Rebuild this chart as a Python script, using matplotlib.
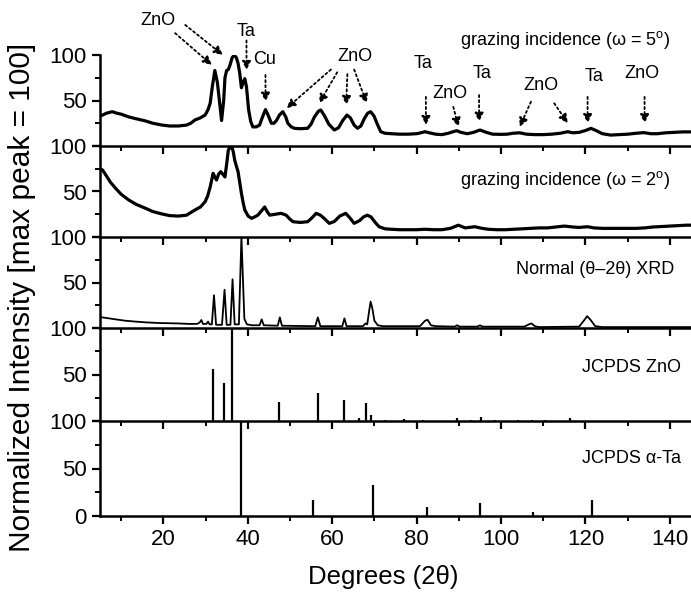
import matplotlib
matplotlib.use("Agg")
import matplotlib.pyplot as plt
from matplotlib.ticker import MultipleLocator, FixedLocator

plt.rcParams['font.family'] = ['Liberation Sans', 'DejaVu Sans']
plt.rcParams['mathtext.fontset'] = 'custom'
plt.rcParams['mathtext.rm'] = 'Liberation Sans'

# ---------------- data ----------------
# grazing incidence, omega = 5 deg
gi5_x = [5.0, 5.6, 6.5, 7.9, 9, 10, 11.8, 13.5, 15.8, 17.5, 19.7, 21.5, 23.6, 25.5, 26.5, 27.5, 28.8,
         29.9, 30.6, 31.1, 31.6, 32.2, 32.8, 33.4, 33.8, 34.3, 34.6, 35.0, 35.4, 35.8, 36.3, 36.8, 37.3,
         37.7, 38.1, 38.5, 38.9, 39.3, 39.7, 40.2, 40.7, 41.2, 42.0, 42.8, 43.5, 44.2, 44.9, 45.6, 46.2,
         46.8, 47.5, 48.3, 49.0, 49.5, 50.3, 51.1, 52.5, 54.2, 55.0, 55.8, 56.7, 57.3, 58.2, 59.2, 60.5,
         61.5, 62.5, 63.5, 64.3, 65.2, 66.0, 66.8, 67.6, 68.4, 69.1, 69.9, 70.6, 71.5, 72.5, 74, 76, 78,
         80, 81.0, 82.0, 83, 84.5, 86, 87.5, 88.5, 89.5, 90.5, 92, 93.5, 95.0, 96.5, 98, 100, 101.5, 102.8,
         104.4, 106, 108, 110, 112, 114, 115.8, 117, 118.5, 120, 121.3, 122.5, 124, 126, 128, 130, 132,
         133.8, 135.5, 137, 139, 141, 143, 145]
gi5_y = [33, 34, 36, 37.7, 36, 35, 32, 30, 27.5, 25, 23, 22, 22, 23, 25, 28.6, 31,
         34, 40, 47, 65, 83, 70, 45, 28, 50, 75, 83, 84, 89, 97, 100, 97,
         91, 80, 64, 70, 74, 65, 40, 27, 21, 21, 23, 32, 40, 33, 25, 25,
         28, 34, 37.7, 32, 25, 21, 19.4, 19, 19.5, 24, 32, 38, 39.6, 33, 24, 17.6,
         20, 28, 34, 31, 23, 19.5, 22, 30, 36, 37.7, 33, 25, 15.7, 14, 13.5, 13, 13,
         13.5, 14.5, 15.7, 14.5, 13, 12.5, 14, 15.5, 16.8, 15, 13.5, 15, 17.6, 15, 13, 12.8, 13, 14,
         14.5, 13, 12.5, 12.5, 13, 14, 15.7, 14.5, 15, 17, 19.4, 17, 13.5, 12, 12.5, 13, 14,
         14.7, 13.5, 13.5, 14.5, 15, 15.5, 15.5]

# grazing incidence, omega = 2 deg
gi2_x = [5.0, 5.6, 6.4, 7.5, 8.7, 10, 11.8, 13.5, 15.8, 17.5, 19.7, 21.5, 23.6, 25.5, 27.5, 28.8, 29.9,
         30.5, 31.1, 31.8, 32.2, 32.6, 33.1, 33.6, 34.1, 34.6, 35.0, 35.4, 35.8, 36.2, 36.6, 36.9, 37.3,
         37.7, 38.1, 38.5, 38.9, 39.3, 40.1, 40.9, 41.6, 42.4, 43.3, 44.0, 44.6, 45.2, 46.5, 47.9, 49.1,
         49.9, 50.7, 52.5, 54.2, 55.2, 56.2, 57.2, 58.1, 59.3, 60.5, 61.8, 63.2, 64.2, 65.2, 66.5, 67.4,
         68.3, 69.2, 70.2, 71.1, 72.5, 74, 76, 78, 80, 82, 84, 86, 88, 89.9, 91.5, 93.8, 95.5, 97, 99,
         101, 103, 105, 107, 109, 111, 113, 115, 117, 118.5, 120.5, 122, 124, 126, 128, 130, 132, 134,
         136, 138, 140, 142, 144, 145]
gi2_y = [75, 73.6, 68, 60, 53.5, 47, 40.7, 36, 31.5, 28, 25.3, 23.5, 23, 24, 29.7, 33, 38.8,
         45, 55, 70, 66, 62.6, 69, 71.8, 69, 66, 80, 95.6, 98, 100, 93, 84.6, 78,
         71.8, 60, 48, 38, 29.7, 23, 20.5, 22, 24, 29, 33, 28, 24, 25, 26, 24,
         20, 16.8, 16, 16.8, 21, 26, 24, 20.5, 15, 17, 23, 26, 21, 15, 18, 22,
         24, 22, 16, 11.3, 9, 8.5, 8, 8, 8, 8.5, 8, 8, 9.5, 13, 10, 11.3, 9.5, 8.5, 8,
         8, 8.5, 9, 9.5, 10, 10, 11, 12, 11, 10.5, 11.3, 10, 9.5, 9.5, 9.5, 9.5, 9.5, 10,
         11, 11.5, 12, 12.5, 13, 13]

# normal theta-2theta XRD
n_x = [5, 6.5, 8.7, 11, 13.5, 15.8, 19, 23.6, 26, 28, 28.6, 29, 29.4, 30.2, 30.6, 31.0, 31.5, 32.0,
       32.5, 33.9, 34.5, 35.0, 35.9, 36.4, 36.9, 37.9, 38.5, 39.2, 39.8, 41, 42.8, 43.3, 43.8, 47.1,
       47.6, 48.1, 56.0, 56.6, 57.2, 62.4, 62.9, 63.4, 67.3, 67.9, 68.3, 68.8, 69.1, 69.5, 70.0, 70.8,
       72, 80.8, 82.0, 82.6, 83.4, 84.5, 89.0, 89.6, 90.2, 94.4, 95.0, 95.6, 105.5, 106.6, 107.2,
       108.0, 109, 118.5, 119.6, 120.4, 121.2, 122.3, 124, 145]
n_y = [12, 11, 9.5, 8, 7, 6.2, 5.5, 5, 4.5, 4.5, 6, 8.8, 4.5, 4.5, 7, 4, 4, 36,
       3.5, 3.5, 42, 3.5, 3.5, 53.5, 4, 4, 100, 10, 4, 3, 3, 9.5, 3, 2.5,
       11.7, 2.5, 2, 11.7, 2, 2, 10.6, 2, 2, 5, 4, 20, 29, 22, 8, 3,
       2, 2, 8, 9, 3, 2, 1.5, 3, 1.5, 1.5, 3, 1.5, 1.5, 4, 5,
       2, 1, 1.5, 8, 13, 9, 2, 1, 1]

# JCPDS ZnO stick pattern
zno_pos = [31.8, 34.4, 36.3, 47.5, 56.6, 62.9, 66.4, 68.0, 69.1, 72.6, 77.0, 81.4, 89.6, 92.8, 95.3,
           98.6, 104.1, 107.4, 110.4, 116.3]
zno_int = [56, 41, 100, 20, 30, 23, 3, 19, 6, 1.5, 2, 1, 3, 1.5, 4, 1.5, 1, 1, 1.5, 3]

# JCPDS alpha-Ta stick pattern
ta_pos = [38.5, 55.5, 69.6, 82.5, 94.9, 107.6, 121.5]
ta_int = [100, 17, 33, 10, 14, 4, 17]

panel_labels = ["grazing incidence (\u03c9 = 5$^{\\mathrm{o}}$)",
                "grazing incidence (\u03c9 = 2$^{\\mathrm{o}}$)",
                "Normal (\u03b8\u20132\u03b8) XRD",
                "JCPDS ZnO",
                "JCPDS \u03b1-Ta"]
label_x = [140.2, 140.2, 141.0, 142.6, 142.6]
label_y = [116, 63, 64, 58, 61]

xticks_major = [20, 40, 60, 80, 100, 120, 140]

# ---------------- figure ----------------
W, H = 691, 599
fig = plt.figure(figsize=(W / 100, H / 100), dpi=100)
bounds = [55, 146, 237, 328, 421, 516]
left = 100 / W
axes = []
for i in range(5):
    top, bot = bounds[i], bounds[i + 1]
    ax = fig.add_axes([left, 1 - bot / H, 1 - left, (bot - top) / H])
    axes.append(ax)

lw_sp = 1.8
for i, ax in enumerate(axes):
    ax.set_xlim(5, 145)
    ax.set_ylim(0, 100)
    for s in ['top', 'right']:
        ax.spines[s].set_visible(False)
    for s in ['left', 'bottom']:
        ax.spines[s].set_linewidth(lw_sp)
    ax.xaxis.set_major_locator(FixedLocator(xticks_major))
    ax.xaxis.set_minor_locator(MultipleLocator(10))
    ax.yaxis.set_major_locator(FixedLocator([0, 50, 100]))
    ax.yaxis.set_minor_locator(FixedLocator([25, 75]))
    ax.tick_params(axis='both', which='major', direction='out', length=6, width=1.6, labelsize=16)
    ax.tick_params(axis='both', which='minor', direction='out', length=3.5, width=1.4)
    ax.patch.set_visible(False)
    if i < 4:
        ax.set_xticklabels([])
        ax.set_yticklabels(['', '50', '100'])
    else:
        ax.set_yticklabels(['0', '50', '100'])
    ax.text(label_x[i], label_y[i], panel_labels[i], ha='right', va='center', fontsize=13)

axes[0].plot(gi5_x, gi5_y, color='k', lw=2.3, solid_joinstyle='round')
axes[1].plot(gi2_x, gi2_y, color='k', lw=2.3, solid_joinstyle='round')
axes[2].plot(n_x, n_y, color='k', lw=1.3)
axes[3].vlines(zno_pos, 0, zno_int, color='k', lw=1.6)
axes[4].vlines(ta_pos, 0, ta_int, color='k', lw=1.6)

# ---------------- annotations in top panel ----------------
ax = axes[0]
ap = dict(arrowstyle='-|>', linestyle=(0, (1.2, 1.6)), lw=1.3, color='k',
          mutation_scale=13, shrinkA=0, shrinkB=0)
fs = 13

def ann(tx, ty, txt, arrows):
    ax.text(tx, ty, txt, ha='center', va='center', fontsize=fs, clip_on=False)
    for (x0, y0, x1, y1) in arrows:
        ax.annotate('', xy=(x1, y1), xytext=(x0, y0), arrowprops=ap, annotation_clip=False)

ann(18.8, 138, "ZnO", [(22.8, 124, 31.5, 89), (25.2, 133, 34.1, 100)])
ann(39.7, 126, "Ta", [(39.7, 116, 39.7, 83.5)])
ann(44.1, 95, "Cu", [(44.2, 78, 44.2, 48.7)])
ann(65.4, 98, "ZnO", [(59.7, 84, 49.2, 41.5), (61.2, 81, 56.9, 47),
                       (63.6, 79, 63.3, 45), (65.2, 84, 68.2, 47)])
ann(81.6, 91, "Ta", [(82.2, 54, 82.2, 23)])
ann(87.9, 58, "ZnO", [(88.7, 43, 89.9, 21)])
ann(95.4, 80, "Ta", [(94.8, 56, 94.8, 26.7)])
ann(109.5, 67, "ZnO", [(107.1, 48.7, 104.4, 21), (112.6, 47, 115.8, 25)])
ann(122.0, 76, "Ta", [(120.5, 54, 120.5, 25)])
ann(133.4, 80, "ZnO", [(134.0, 54, 134.0, 25)])

fig.text(383 / W, 1 - 577 / H, "Degrees (2\u03b8)", ha='center', va='center', fontsize=18.5)
fig.text(22 / W, 1 - 297 / H, "Normalized Intensity [max peak = 100]", rotation=90,
         ha='center', va='center', fontsize=21.5)

fig.savefig("out.png", dpi=100)
